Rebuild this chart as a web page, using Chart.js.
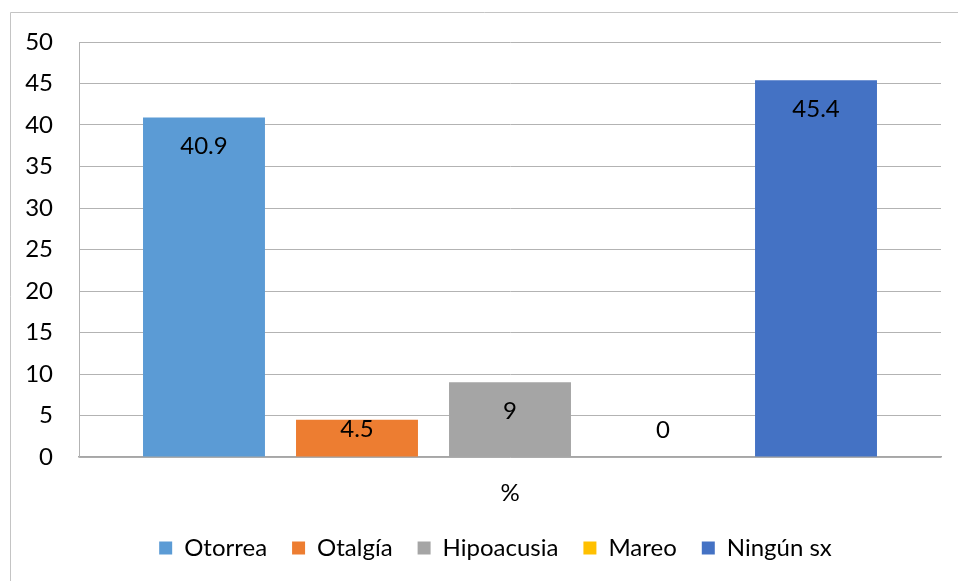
<!DOCTYPE html>
<html lang="es">
<head>
  <meta charset="utf-8">
  <script src="https://cdn.jsdelivr.net/npm/chart.js"></script>
  <style>
    body { margin: 0; background: #fff; }
    #wrap { width: 958px; height: 581px; position: relative; }
  </style>
</head>
<body>
  <div id="wrap">
    <canvas id="chartSx"></canvas>
  </div>

<script>
  // datos del gráfico
  var categorias = ["%"];
  var series = ["Otorrea", "Otalgía", "Hipoacusia", "Mareo", "Ningún sx"];
  var valores = [40.9, 4.5, 9, 0, 45.4];
  var colores = ["#5B9BD5", "#ED7D31", "#A5A5A5", "#FFC000", "#4472C4"];

  var fuente = "Lato, 'Open Sans', sans-serif";

  // marco exterior (solo arriba e izquierda, como en la imagen)
  var marco = {
    id: 'marco',
    afterLayout: function (chart) {
      // la leyenda va algo desplazada a la derecha
      if (chart.legend) chart.legend.left += 50;
    },
    beforeDraw: function (chart) {
      var c = chart.ctx;
      c.save();
      c.fillStyle = '#fff';
      c.fillRect(0, 0, chart.width, chart.height);
      c.strokeStyle = '#c4c4c4';
      c.lineWidth = 1;
      c.beginPath();
      c.moveTo(10.5, chart.height);
      c.lineTo(10.5, 12.5);
      c.lineTo(chart.width, 12.5);
      c.stroke();
      c.restore();
    }
  };

  // etiquetas de valor dentro del extremo de la barra
  var etiquetas = {
    id: 'etiquetas',
    afterDatasetsDraw: function (chart) {
      var c = chart.ctx;
      c.save();
      c.font = '24px ' + fuente;
      c.fillStyle = '#000';
      c.textAlign = 'center';
      c.textBaseline = 'middle';
      chart.data.datasets.forEach(function (ds, i) {
        chart.getDatasetMeta(i).data.forEach(function (bar, j) {
          var y = Math.min(bar.y + 29, bar.base - 27);
          c.fillText(String(ds.data[j]), bar.x, y);
        });
      });
      c.restore();
    }
  };

  var ctx = document.getElementById("chartSx").getContext("2d");
  var config = {
    type: 'bar',
    data: {
      labels: categorias,
      datasets: series.map(function (nombre, i) {
        return {
          label: nombre,
          data: [valores[i]],
          backgroundColor: colores[i],
          borderWidth: 0,
          categoryPercentage: 0.8875,
          barPercentage: 0.797
        };
      })
    },
    options: {
      responsive: true,
      maintainAspectRatio: false,
      animation: false,
      layout: { padding: { left: 0, top: 42, right: 17, bottom: 11 } },
      plugins: {
        tooltip: { enabled: false },
        legend: {
          position: 'bottom',
          labels: {
            font: { family: fuente, size: 24 },
            color: '#000',
            boxWidth: 13,
            boxHeight: 13,
            padding: 25
          }
        }
      },
      scales: {
        x: {
          grid: { display: false },
          border: { color: '#a6a6a6', width: 1.5 },
          ticks: { font: { family: fuente, size: 24 }, color: '#000', padding: 14 },
          afterFit: function (s) { s.height = 54; }
        },
        y: {
          min: 0,
          max: 50,
          ticks: { stepSize: 5, font: { family: fuente, size: 24 }, color: '#000', padding: 26 },
          grid: { color: '#b3b3b3', drawTicks: false },
          border: { color: '#b3b3b3' },
          afterFit: function (s) { s.width = 79; }
        }
      }
    },
    plugins: [marco, etiquetas]
  };

  var grafico = new Chart(ctx, config);
</script>
</body>
</html>
